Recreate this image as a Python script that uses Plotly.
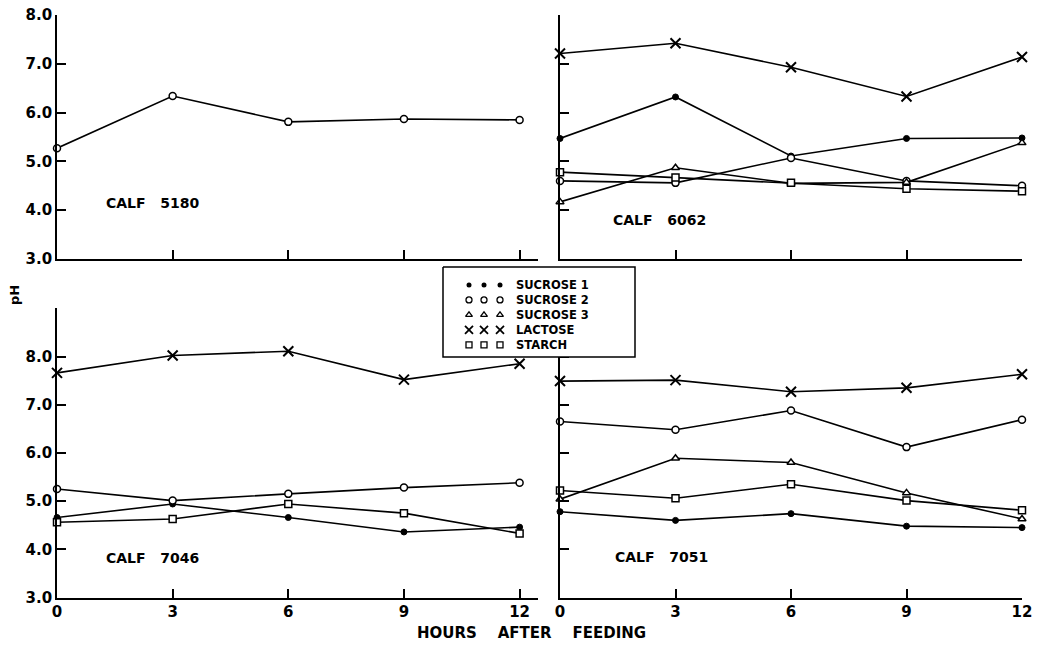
import plotly.graph_objects as go

# ---------------- data ----------------
hours = [0, 3, 6, 9, 12]

# Calf 5180
c5180_sucrose2 = [5.27, 6.34, 5.81, 5.87, 5.85]

# Calf 6062
c6062_sucrose1 = [5.47, 6.32, 5.11, 5.47, 5.48]
c6062_sucrose2 = [4.60, 4.56, 5.07, 4.60, 4.50]
c6062_sucrose3 = [4.17, 4.87, 4.55, 4.57, 5.38]
c6062_lactose = [7.21, 7.42, 6.93, 6.33, 7.14]
c6062_starch = [4.78, 4.67, 4.56, 4.44, 4.39]

# Calf 7046
c7046_sucrose1 = [4.66, 4.94, 4.66, 4.36, 4.46]
c7046_sucrose2 = [5.25, 5.01, 5.15, 5.28, 5.38]
c7046_lactose = [7.66, 8.02, 8.11, 7.52, 7.85]
c7046_starch = [4.56, 4.63, 4.94, 4.75, 4.33]

# Calf 7051
c7051_sucrose1 = [4.78, 4.60, 4.74, 4.48, 4.45]
c7051_sucrose2 = [6.65, 6.48, 6.88, 6.12, 6.69]
c7051_sucrose3 = [5.04, 5.89, 5.80, 5.17, 4.63]
c7051_lactose = [7.49, 7.51, 7.27, 7.35, 7.63]
c7051_starch = [5.22, 5.06, 5.35, 5.01, 4.81]

series_names = ["SUCROSE 1", "SUCROSE 2", "SUCROSE 3", "LACTOSE", "STARCH"]
panel_labels = ["CALF   5180", "CALF   6062", "CALF   7046", "CALF   7051"]
x_title = "HOURS    AFTER    FEEDING"
y_title = "pH"
x_tick_labels = ["0", "3", "6", "9", "12"]
y_tick_top = ["3.0", "4.0", "5.0", "6.0", "7.0", "8.0"]
y_tick_bottom = ["3.0", "4.0", "5.0", "6.0", "7.0", "8.0", ""]

# ---------------- styles ----------------
W, H = 1042, 645
FONT = "DejaVu Sans"
INK = "black"
STYLE = {
    "SUCROSE 1": dict(symbol="circle", size=6, color=INK, line=dict(color=INK, width=1)),
    "SUCROSE 2": dict(symbol="circle", size=7, color="white", line=dict(color=INK, width=1.5)),
    "SUCROSE 3": dict(symbol="triangle-up", size=7, color="white", line=dict(color=INK, width=1.5)),
    "LACTOSE": dict(symbol="x-thin", size=10, color=INK, line=dict(color=INK, width=2)),
    "STARCH": dict(symbol="square", size=7, color="white", line=dict(color=INK, width=1.5)),
}

def px_x(p):
    return p / W

def px_y(p):
    return 1 - p / H

fig = go.Figure()

panels = [
    ("x", "y", [("SUCROSE 2", c5180_sucrose2)]),
    ("x2", "y2", [("LACTOSE", c6062_lactose), ("SUCROSE 1", c6062_sucrose1),
                  ("SUCROSE 2", c6062_sucrose2), ("SUCROSE 3", c6062_sucrose3),
                  ("STARCH", c6062_starch)]),
    ("x3", "y3", [("LACTOSE", c7046_lactose), ("SUCROSE 1", c7046_sucrose1),
                  ("SUCROSE 2", c7046_sucrose2), ("STARCH", c7046_starch)]),
    ("x4", "y4", [("LACTOSE", c7051_lactose), ("SUCROSE 2", c7051_sucrose2),
                  ("SUCROSE 3", c7051_sucrose3), ("STARCH", c7051_starch),
                  ("SUCROSE 1", c7051_sucrose1)]),
]

for xa, ya, lst in panels:
    for name, vals in lst:
        fig.add_trace(go.Scatter(
            x=hours, y=vals, xaxis=xa, yaxis=ya, mode="lines+markers",
            line=dict(color=INK, width=1.6), marker=STYLE[name],
            cliponaxis=False, name=name, showlegend=False, hoverinfo="skip"))

# ---------------- hand-drawn style legend (overlay axis in pixel space) ----------------
LEG_BOX = (443, 267, 635, 357)
LEG_MARK_X = [469, 484, 500]
LEG_TEXT_X = 515
LEG_FONT = 11.5
LEG_LINE = LEG_FONT * 1.3   # plotly multi-line spacing
LEG_FIRST_ROW = 284         # centre of first text row
LEG_ROW_Y = [LEG_FIRST_ROW + i * LEG_LINE for i in range(len(series_names))]
LEG_MARK_STYLE = {
    "SUCROSE 1": dict(symbol="circle", size=5, color=INK),
    "SUCROSE 2": dict(symbol="circle", size=6, color="white", line=dict(color=INK, width=1.3)),
    "SUCROSE 3": dict(symbol="triangle-up", size=6, color="white", line=dict(color=INK, width=1.3)),
    "LACTOSE": dict(symbol="x-thin", size=8, color=INK, line=dict(color=INK, width=1.8)),
    "STARCH": dict(symbol="square", size=6, color="white", line=dict(color=INK, width=1.3)),
}
bx0, by0, bx1, by1 = LEG_BOX
fig.add_trace(go.Scatter(
    x=[bx0, bx1, bx1, bx0, bx0], y=[by0, by0, by1, by1, by0], xaxis="x5", yaxis="y5",
    mode="lines", fill="toself", fillcolor="white", line=dict(color=INK, width=1.5),
    showlegend=False, hoverinfo="skip", cliponaxis=False))
for name, ry in zip(series_names, LEG_ROW_Y):
    fig.add_trace(go.Scatter(
        x=LEG_MARK_X, y=[ry + 1] * len(LEG_MARK_X), xaxis="x5", yaxis="y5", mode="markers",
        marker=LEG_MARK_STYLE[name], showlegend=False, hoverinfo="skip", cliponaxis=False))

BOLD = "bold"
annotations = []
annotations.append(dict(x=px_x(LEG_TEXT_X), y=px_y(LEG_FIRST_ROW - LEG_LINE / 2),
                        xref="paper", yref="paper", text="<br>".join(series_names),
                        showarrow=False, xanchor="left", yanchor="top", align="left",
                        borderpad=0,
                        font=dict(family=FONT, size=LEG_FONT, color=INK, weight=BOLD)))

label_pos = [(104, 203), (611, 220), (104, 558), (613, 557)]
for txt, (lx, ly) in zip(panel_labels, label_pos):
    annotations.append(dict(x=px_x(lx), y=px_y(ly), xref="paper", yref="paper", text=txt,
                            showarrow=False, xanchor="left", yanchor="middle",
                            font=dict(family=FONT, size=14, color=INK, weight=BOLD)))

annotations.append(dict(x=px_x(531), y=px_y(633), xref="paper", yref="paper",
                        text=x_title, showarrow=False,
                        xanchor="center", yanchor="middle",
                        font=dict(family=FONT, size=15, color=INK, weight=BOLD)))
annotations.append(dict(x=px_x(15), y=px_y(295), xref="paper", yref="paper",
                        text=y_title, showarrow=False, textangle=-90,
                        xanchor="center", yanchor="middle",
                        font=dict(family=FONT, size=13, color=INK, weight=BOLD)))

# ---------------- axes ----------------
LEFT_DOM = [px_x(57), px_x(538)]
LEFT_RANGE = [0, 12 * (538 - 57) / (519.6 - 57)]
RIGHT_DOM = [px_x(560), px_x(1022)]
RIGHT_RANGE = [0, 12]
TOP_DOM = [px_y(259), px_y(15)]
BOT_DOM = [px_y(597.5), px_y(308.3)]

axis_common = dict(showline=True, linecolor=INK, linewidth=1.6, showgrid=False,
                   zeroline=False, ticks="inside", ticklen=9, tickwidth=1.6, tickcolor=INK,
                   tickfont=dict(family=FONT, size=15, color=INK, weight=BOLD),
                   fixedrange=True, automargin=False)

def xax(dom, rng, anchor, labels):
    return dict(axis_common, domain=dom, range=rng, anchor=anchor,
                tickvals=hours, ticktext=x_tick_labels, showticklabels=labels)

def yax(dom, rng, anchor, vals, text, labels):
    return dict(axis_common, domain=dom, range=rng, anchor=anchor,
                tickvals=vals, ticktext=text, showticklabels=labels)

top_vals = [3, 4, 5, 6, 7, 8]
bot_vals = [3, 4, 5, 6, 7, 8, 9]

fig.update_layout(
    template="none",
    width=W, height=H, margin=dict(l=0, r=0, t=0, b=0, pad=0, autoexpand=False),
    paper_bgcolor="white", plot_bgcolor="rgba(0,0,0,0)", showlegend=False,
    xaxis=xax(LEFT_DOM, LEFT_RANGE, "y", False),
    yaxis=yax(TOP_DOM, [3, 8], "x", top_vals, y_tick_top, True),
    xaxis2=xax(RIGHT_DOM, RIGHT_RANGE, "y2", False),
    yaxis2=yax(TOP_DOM, [3, 8], "x2", top_vals, y_tick_top, False),
    xaxis3=xax(LEFT_DOM, LEFT_RANGE, "y3", True),
    yaxis3=yax(BOT_DOM, [3, 9], "x3", bot_vals, y_tick_bottom, True),
    xaxis4=xax(RIGHT_DOM, RIGHT_RANGE, "y4", True),
    yaxis4=yax(BOT_DOM, [3, 9], "x4", bot_vals, y_tick_bottom, False),
    xaxis5=dict(domain=[0, 1], range=[0, W], anchor="y5", visible=False, fixedrange=True),
    yaxis5=dict(domain=[0, 1], range=[H, 0], anchor="x5", visible=False, fixedrange=True),
    annotations=annotations,
)

fig.write_html("out.html")
